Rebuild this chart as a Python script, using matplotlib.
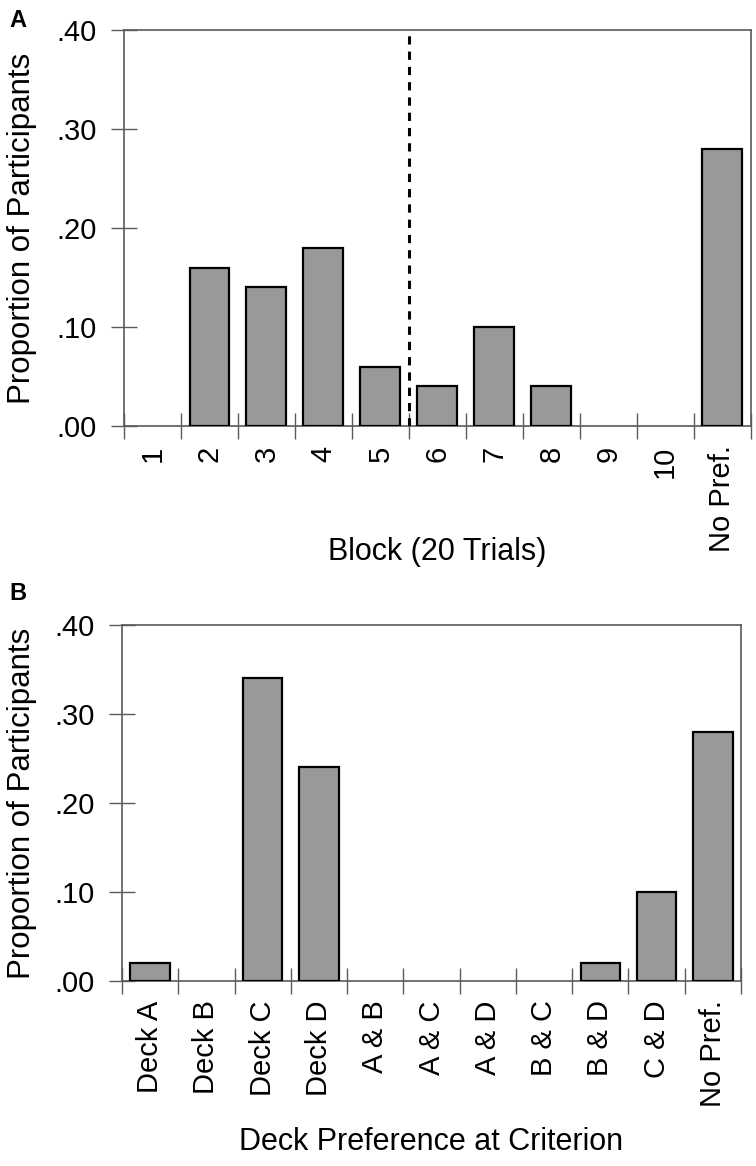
import numpy as np
import matplotlib.pyplot as plt

plt.rcParams['font.family'] = ['Liberation Sans', 'DejaVu Sans']

# panel A - block at which criterion was reached
blocks = ["1", "2", "3", "4", "5", "6", "7", "8", "9", "10", "No Pref."]
block_props = [0.0, 0.16, 0.14, 0.18, 0.06, 0.04, 0.10, 0.04, 0.0, 0.0, 0.28]

# panel B - deck preference at criterion
decks = ["Deck A", "Deck B", "Deck C", "Deck D", "A & B", "A & C", "A & D",
         "B & C", "B & D", "C & D", "No Pref."]
deck_props = [0.02, 0.0, 0.34, 0.24, 0.0, 0.0, 0.0, 0.0, 0.02, 0.10, 0.28]

yticks = [0.0, 0.1, 0.2, 0.3, 0.4]
ytick_labels = [".00", ".10", ".20", ".30", ".40"]
split_after = 4.5  # dashed line between block 5 and 6

spine_col = "#5a5a5a"


def draw_bars(ax, values):
    # no outline for empty categories
    lw = [1.6 if v > 0 else 0 for v in values]
    ax.bar(np.arange(len(values)), values, width=0.7, color="#999999",
           edgecolor="black", linewidth=lw, zorder=3)


def style_axes(ax, labels, xlabel, xlab_y):
    n = len(labels)
    ax.set_xlim(-0.5, n - 0.5)
    ax.set_ylim(0, 0.4)
    ax.set_yticks(yticks)
    ax.set_yticklabels(ytick_labels, fontsize=21)
    ax.set_xticks(np.arange(n))
    ax.set_xticklabels(labels, rotation=90, fontsize=21)
    ax.set_xticks(np.arange(n + 1) - 0.5, minor=True)
    ax.tick_params(axis="x", which="major", length=0, pad=14)
    ax.tick_params(axis="x", which="minor", direction="inout", length=19,
                   width=1, color=spine_col)
    ax.tick_params(axis="y", direction="inout", length=19, width=1,
                   color=spine_col, pad=10)
    for s in ax.spines.values():
        s.set_color(spine_col)
        s.set_linewidth(1.2)
    ax.set_ylabel("Proportion of Participants", fontsize=22.5)
    ax.yaxis.set_label_coords(-0.138, 0.5)
    ax.set_xlabel(xlabel, fontsize=22)
    ax.xaxis.set_label_coords(0.5, xlab_y)


fig = plt.figure(figsize=(7.56, 11.66), dpi=100)

ax1 = fig.add_axes([0.164, 0.6346, 0.829, 0.3396])
draw_bars(ax1, block_props)
ax1.axvline(split_after, color="black", linewidth=2.2,
            linestyle=(0, (2.7, 2.3)), zorder=4)
style_axes(ax1, blocks, "Block (20 Trials)", -0.28)
fig.text(0.012, 0.992, "A", fontsize=17, fontweight="bold", va="top")

ax2 = fig.add_axes([0.1614, 0.1587, 0.8188, 0.3053])
draw_bars(ax2, deck_props)
style_axes(ax2, decks, "Deck Preference at Criterion", -0.41)
fig.text(0.012, 0.501, "B", fontsize=17, fontweight="bold", va="top")

fig.savefig("out.png", dpi=100)
